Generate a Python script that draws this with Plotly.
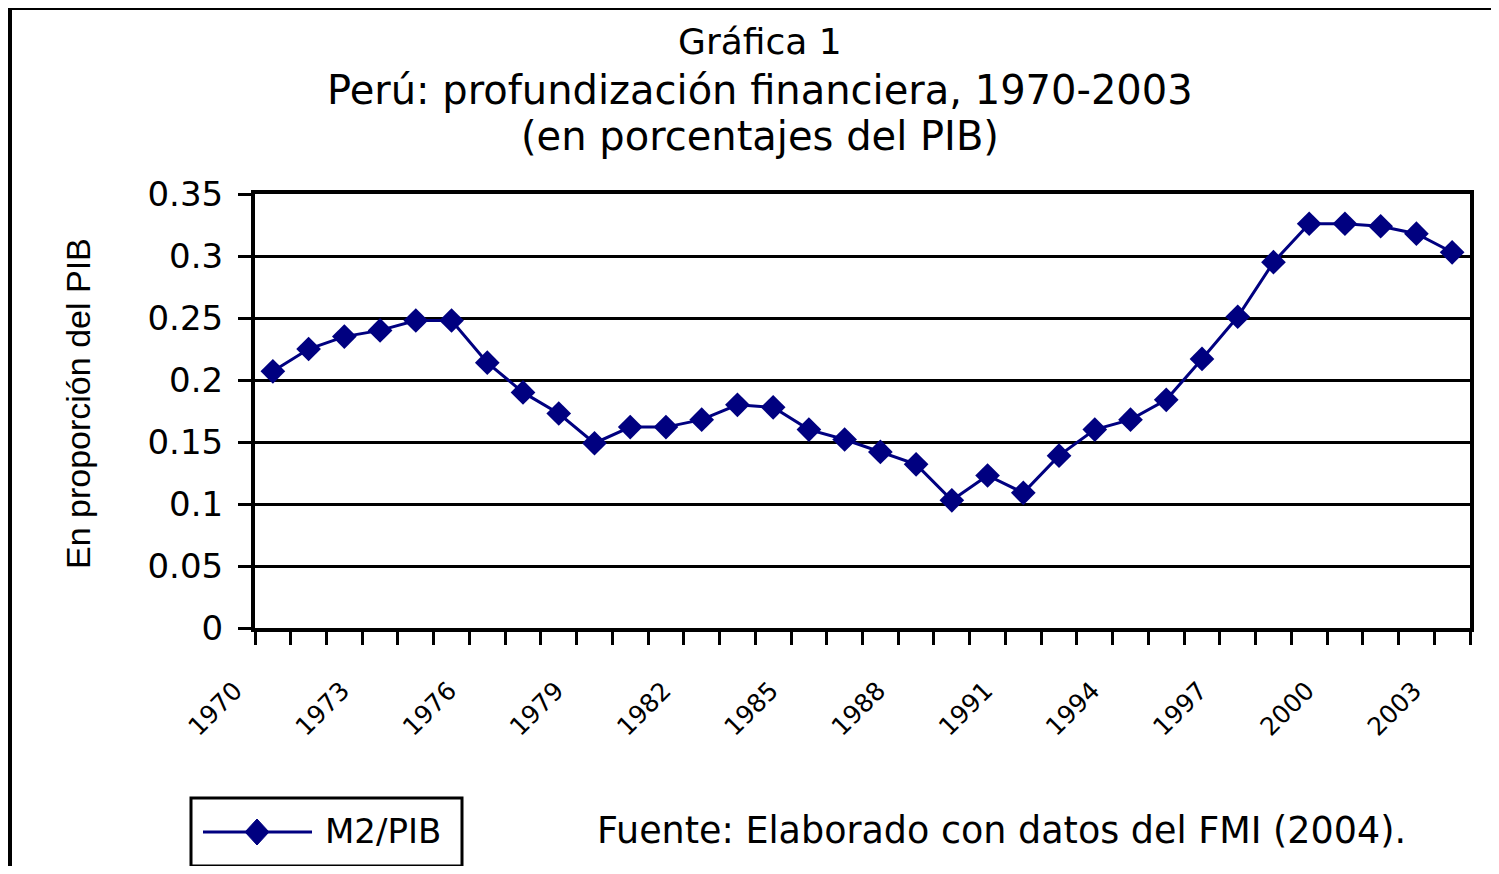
import plotly.graph_objects as go

years = [1970, 1971, 1972, 1973, 1974, 1975, 1976, 1977, 1978, 1979,
         1980, 1981, 1982, 1983, 1984, 1985, 1986, 1987, 1988, 1989,
         1990, 1991, 1992, 1993, 1994, 1995, 1996, 1997, 1998, 1999,
         2000, 2001, 2002, 2003]
m2_pib = [0.207, 0.225, 0.235, 0.240, 0.248, 0.248, 0.214, 0.190, 0.173, 0.149,
          0.162, 0.162, 0.168, 0.180, 0.178, 0.160, 0.152, 0.142, 0.132, 0.103,
          0.123, 0.109, 0.139, 0.160, 0.168, 0.184, 0.217, 0.251, 0.295, 0.326,
          0.326, 0.324, 0.318, 0.303]
tick_years = [1970, 1973, 1976, 1979, 1982, 1985, 1988, 1991, 1994, 1997, 2000, 2003]
tick_labels = [str(y) for y in tick_years]
y_ticks = [0, 0.05, 0.1, 0.15, 0.2, 0.25, 0.3, 0.35]
y_labels = ["0", "0.05", "0.1", "0.15", "0.2", "0.25", "0.3", "0.35"]
boundaries = [y - 0.5 for y in years] + [years[-1] + 0.5]

NAVY = "#000080"
FONT = "DejaVu Sans"

OFF = 8  # page body margin
W, H = 1499 - 2 * OFF, 874 - 2 * OFF
# plot area in page pixels: x 255..1470, y 194..628
L = 255 - OFF
T = 194 - OFF
PW = 1470 - 255
PH = 628 - 194
R = W - L - PW
B = H - T - PH


def xp(px):
    """page pixel x -> paper x"""
    return (px - OFF - L) / PW


def yp(py):
    """page pixel y -> paper y"""
    return (T + PH - (py - OFF)) / PH


fig = go.Figure()
fig.add_trace(go.Scatter(
    x=years, y=m2_pib, mode="lines+markers", name="M2/PIB",
    line=dict(color=NAVY, width=3),
    marker=dict(symbol="diamond", size=19, color=NAVY),
    showlegend=False,
))

fig.update_layout(
    width=W, height=H,
    margin=dict(l=L, r=R, t=T, b=B, autoexpand=False),
    paper_bgcolor="white", plot_bgcolor="white",
    font=dict(family=FONT, color="black"),
    xaxis=dict(
        range=[1969.5, 2003.5],
        tickmode="array", tickvals=tick_years, ticktext=tick_labels,
        tickangle=-45, ticks="", tickfont=dict(size=25, family=FONT),
        ticklabelshift=-38, ticklabelstandoff=34,
        showgrid=False, zeroline=False,
        showline=True, linecolor="black", linewidth=4, mirror=True,
        minor=dict(tickmode="array", tickvals=boundaries, ticks="outside",
                   ticklen=13, tickwidth=3, tickcolor="black", showgrid=False),
    ),
    yaxis=dict(
        range=[0, 0.35],
        tickmode="array", tickvals=y_ticks, ticktext=y_labels,
        ticks="outside", ticklen=13, tickwidth=3, tickcolor="black",
        tickfont=dict(size=34, family=FONT), ticklabelstandoff=8,
        showgrid=True, gridcolor="black", gridwidth=3,
        zeroline=False,
        showline=True, linecolor="black", linewidth=4, mirror=True,
    ),
)

# outer frame (top and left edges)
fig.add_shape(type="line", xref="paper", yref="paper",
              x0=xp(10), x1=xp(1510), y0=yp(8), y1=yp(8),
              line=dict(color="black", width=4))
fig.add_shape(type="line", xref="paper", yref="paper",
              x0=xp(10), x1=xp(10), y0=yp(8), y1=yp(890),
              line=dict(color="black", width=4))

# titles
titles = [("Gráfica 1", 41, 36),
          ("Perú: profundización financiera, 1970-2003", 90, 40),
          ("(en porcentajes del PIB)", 136, 40)]
for txt, ypx, sz in titles:
    fig.add_annotation(text=txt, xref="paper", yref="paper",
                       x=xp(760), y=yp(ypx), xanchor="center", yanchor="middle",
                       showarrow=False, font=dict(size=sz, family=FONT, color="black"))

# y-axis title
fig.add_annotation(text="En proporción del PIB", xref="paper", yref="paper",
                   x=xp(78), y=yp(404), xanchor="center", yanchor="middle",
                   textangle=-90, showarrow=False,
                   font=dict(size=34, family="Liberation Sans", color="black"))

# legend box (manual)
fig.add_shape(type="rect", xref="paper", yref="paper",
              x0=xp(191), x1=xp(462), y0=yp(798), y1=yp(866),
              line=dict(color="black", width=3), fillcolor="white")
fig.add_shape(type="line", xref="paper", yref="paper",
              x0=xp(203), x1=xp(312), y0=yp(832), y1=yp(832),
              line=dict(color=NAVY, width=3))
cx, cy, hw, hh = 257, 832, 12, 13
fig.add_shape(type="path", xref="paper", yref="paper",
              path=f"M {xp(cx - hw)} {yp(cy)} L {xp(cx)} {yp(cy - hh)} "
                   f"L {xp(cx + hw)} {yp(cy)} L {xp(cx)} {yp(cy + hh)} Z",
              fillcolor=NAVY, line=dict(color=NAVY, width=1))
fig.add_annotation(text="M2/PIB", xref="paper", yref="paper",
                   x=xp(323), y=yp(831), xanchor="left", yanchor="middle",
                   showarrow=False, font=dict(size=34, family=FONT, color="black"))

# source note
fig.add_annotation(text="Fuente: Elaborado con datos del FMI (2004).",
                   xref="paper", yref="paper",
                   x=xp(595), y=yp(830), xanchor="left", yanchor="middle",
                   showarrow=False, font=dict(size=36.5, family=FONT, color="black"))

fig.write_html("out.html")
